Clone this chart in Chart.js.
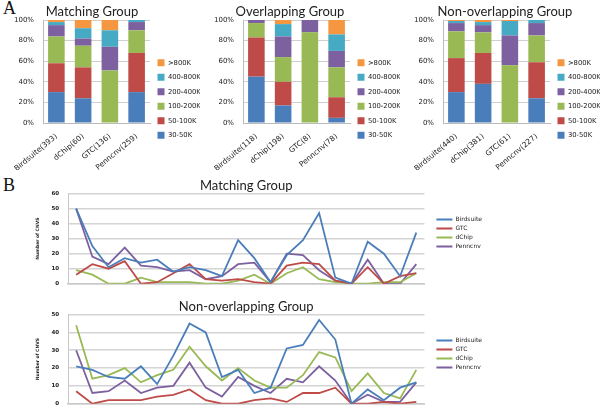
<!DOCTYPE html>
<html>
<head>
<meta charset="utf-8">
<script src="https://cdn.jsdelivr.net/npm/chart.js@4.4.1/dist/chart.umd.min.js"></script>
<style>
  body { margin: 0; width: 600px; height: 416px; background: #fff; position: relative; overflow: hidden; }
  canvas { position: absolute; }
  .tag { position: absolute; font-family: "Liberation Serif", serif; font-size: 18px; color: #111; }
  .head { position: absolute; top: 3px; text-align: center; font-family: Lato, sans-serif; font-size: 13px; color: #222; line-height: 16px; }
</style>
</head>
<body>
<div class="tag" style="left:3px;top:-2px">A</div>
<div class="tag" style="left:3px;top:175px">B</div>
<canvas id="barMatching" width="200" height="170" style="left:0;top:0"></canvas>
<canvas id="barOverlap" width="200" height="170" style="left:200px;top:0"></canvas>
<canvas id="barNonOverlap" width="200" height="170" style="left:400px;top:0"></canvas>
<div class="head" style="left:0;width:184px">Matching Group</div>
<div class="head" style="left:200px;width:180px">Overlapping Group</div>
<div class="head" style="left:410px;width:190px">Non-overlapping Group</div>
<canvas id="lineMatching" width="600" height="126" style="left:0;top:170px"></canvas>
<canvas id="lineNonOverlap" width="600" height="124" style="left:0;top:292px"></canvas>
<script>
// size classes, bottom to top of each stacked bar
const sizeBins = ['30-50K', '50-100K', '100-200K', '200-400K', '400-800K', '>800K'];

// percentages per size class (rows) for each tool (columns)
const matchingTools = ['Birdsuite(393)', 'dChip(60)', 'GTC(136)', 'Penncnv(259)'];
const matchingPct = [
  [30, 24, 0, 30],
  [28, 30, 0, 38],
  [26, 21, 51, 22],
  [11, 7, 23, 8],
  [3, 10, 16, 2],
  [2, 8, 10, 0]
];

const overlapTools = ['Birdsuite(118)', 'dChip(198)', 'GTC(8)', 'Penncnv(78)'];
const overlapPct = [
  [45, 17, 0, 5],
  [38, 23, 0, 20],
  [14, 24, 88, 29],
  [3, 20, 12, 16],
  [0, 12, 0, 16],
  [0, 4, 0, 14]
];

const nonOverlapTools = ['Birdsuite(440)', 'dChip(381)', 'GTC(61)', 'Penncnv(227)'];
const nonOverlapPct = [
  [30, 38, 0, 24],
  [33, 30, 0, 35],
  [26, 20, 56, 26],
  [8, 7, 29, 12],
  [2, 3, 14, 3],
  [1, 2, 1, 0]
];

// CNV counts per chromosome
const chromosomes = ['1', '2', '3', '4', '5', '6', '7', '8', '9', '10', '11', '12', '13', '14', '15', '16', '17', '18', '19', '20', '21', '22'];
const toolNames = ['Birdsuite', 'GTC', 'dChip', 'Penncnv'];

const matchBirdsuite = [50, 25, 11, 17, 14, 16, 8, 11, 9, 5, 29, 17, 1, 19, 29, 47, 4, 0, 28, 20, 5, 34];
const matchGTC = [6, 13, 10, 15, 0, 1, 7, 13, 3, 2, 3, 1, 0, 12, 14, 13, 2, 0, 11, 0, 5, 7];
const matchDChip = [9, 6, 0, 0, 4, 1, 1, 1, 0, 0, 2, 6, 0, 7, 11, 3, 1, 0, 0, 1, 1, 7];
const matchPenncnv = [50, 18, 13, 24, 12, 11, 8, 9, 3, 5, 13, 14, 1, 20, 19, 9, 2, 0, 16, 0, 0, 13];

const nonBirdsuite = [21, 19, 15, 14, 21, 11, 27, 45, 40, 15, 19, 6, 9, 31, 33, 47, 36, 0, 8, 2, 9, 12];
const nonGTC = [7, 0, 2, 2, 2, 4, 5, 8, 2, 0, 0, 2, 3, 1, 6, 6, 9, 0, 0, 1, 0, 1];
const nonDChip = [44, 14, 16, 20, 12, 16, 19, 32, 21, 13, 20, 13, 9, 9, 16, 29, 26, 7, 17, 6, 3, 19];
const nonPenncnv = [30, 6, 7, 13, 6, 9, 10, 23, 9, 4, 15, 10, 6, 14, 12, 21, 13, 0, 5, 1, 1, 12];

const binColors = ['#4a7ebb', '#be4b48', '#98b954', '#7d60a0', '#46aac5', '#f59640'];
const toolColors = ['#4a7ebb', '#be4b48', '#98b954', '#7d60a0'];

Chart.defaults.font.family = '"DejaVu Sans", sans-serif';
Chart.defaults.color = '#222';

function drawShares(id, tools, pct) {
  new Chart(document.getElementById(id), {
    type: 'bar',
    data: {
      labels: tools,
      datasets: sizeBins.map((bin, i) => ({
        label: bin,
        data: pct[i],
        backgroundColor: binColors[i],
        categoryPercentage: 1,
        barPercentage: 0.62
      }))
    },
    options: {
      responsive: false,
      animation: false,
      layout: { padding: { top: 20, left: 0, right: 0, bottom: 0 } },
      plugins: {
        legend: {
          position: 'right', reverse: true,
          // empty title only pushes the key down a little, as in the original
          title: { display: true, text: ' ', padding: { top: 2, bottom: 0 }, font: { size: 5 } },
          labels: { boxWidth: 7, boxHeight: 7, padding: 7.5, font: { size: 6.8 } }
        },
        tooltip: { enabled: false }
      },
      scales: {
        x: {
          stacked: true,
          grid: { display: false },
          border: { color: '#bbb' },
          ticks: { minRotation: 40, maxRotation: 40, font: { size: 7.5 }, padding: 1 },
          afterFit: s => { s.height = 47; }
        },
        y: {
          stacked: true, min: 0, max: 100,
          ticks: { stepSize: 20, callback: v => v + '%', padding: 9, font: { size: 7 } },
          grid: { color: '#cfcfcf', drawTicks: false },
          border: { color: '#bbb' },
          afterFit: s => { s.width = 43; }
        }
      }
    }
  });
}

function drawCounts(id, title, series, yMax, yStep, titleTop, xHeight, xPad) {
  new Chart(document.getElementById(id), {
    type: 'line',
    data: {
      labels: chromosomes,
      datasets: toolNames.map((name, i) => ({
        label: name,
        data: series[i],
        borderColor: toolColors[i],
        backgroundColor: toolColors[i],
        borderWidth: 1.8,
        pointRadius: 0,
        tension: 0,
        fill: false
      }))
    },
    options: {
      responsive: false,
      animation: false,
      layout: { padding: { left: 33, right: 108, top: 0, bottom: 0 } },
      plugins: {
        title: {
          display: true, text: title, fullSize: false, color: '#222',
          font: { family: 'Lato', size: 13, weight: 'normal' },
          padding: { top: titleTop, bottom: 0 }
        },
        legend: {
          position: 'right',
          labels: { usePointStyle: true, pointStyle: 'line', pointStyleWidth: 16, padding: 3, font: { size: 6 } }
        },
        tooltip: { enabled: false }
      },
      scales: {
        x: {
          offset: true,
          grid: { display: false },
          border: { color: '#c8c8c8', width: 1.5 },
          ticks: { font: { size: 5.5, weight: 'bold' }, padding: xPad, maxRotation: 0, autoSkip: false },
          afterFit: s => { s.height = xHeight; }
        },
        y: {
          min: 0, max: yMax,
          ticks: { stepSize: yStep, font: { size: 5.5, weight: 'bold' }, padding: 9 },
          grid: { color: '#d4d4d4', lineWidth: 1.5, drawTicks: false },
          border: { color: '#c8c8c8' },
          title: { display: true, text: 'Number of CNVS', font: { size: 4.5, weight: 'bold' }, padding: 2 }
        },
        gap: {
          type: 'linear', axis: 'y', position: 'right',
          grid: { display: false }, border: { display: false }, ticks: { display: false },
          afterFit: s => { s.width = 9; }
        }
      }
    }
  });
}

drawShares('barMatching', matchingTools, matchingPct);
drawShares('barOverlap', overlapTools, overlapPct);
drawShares('barNonOverlap', nonOverlapTools, nonOverlapPct);
drawCounts('lineMatching', 'Matching Group', [matchBirdsuite, matchGTC, matchDChip, matchPenncnv], 60, 10, 8, 10, 3);
drawCounts('lineNonOverlap', 'Non-overlapping Group', [nonBirdsuite, nonGTC, nonDChip, nonPenncnv], 50, 5, 7, 8.7, 2);
</script>
</body>
</html>
